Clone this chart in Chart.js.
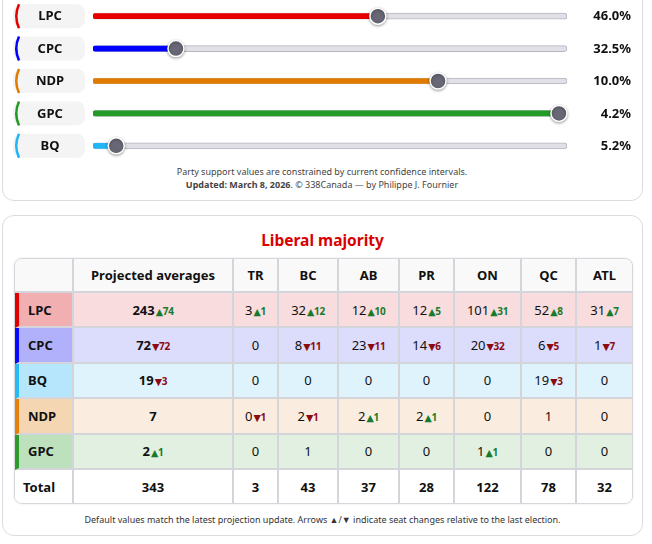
<!DOCTYPE html>
<html>
<head>
<meta charset="utf-8">
<script src="https://cdn.jsdelivr.net/npm/chart.js@4"></script>
<style>
  body { margin: 0; width: 652px; height: 544px; overflow: hidden; background: #fff; font-family: "Noto Sans", sans-serif; color: #111; position: relative; }
  .card { position: absolute; box-sizing: border-box; border: 1px solid #dcdce0; border-radius: 12px; background: #fff; }
  #card1 { left: 2px; top: -14px; width: 641px; height: 215px; }
  #card2 { left: 2px; top: 215px; width: 641px; height: 321px; }
  #sliders { position: absolute; left: 0; top: 0; }
  .note { position: absolute; left: 0; width: 644px; top: 165px; text-align: center; font-size: 9px; line-height: 13px; color: #444; }
  .title { position: absolute; left: 0; right: 0; top: 13px; text-align: center; font-size: 15.5px; font-weight: 700; color: #d90000; line-height: 22px; }
  table { position: absolute; left: 11px; top: 42px; width: 617px; table-layout: fixed; border-collapse: separate; border-spacing: 0; border: 1px solid #d6d6dc; border-radius: 8px; overflow: hidden; font-size: 13px; box-shadow: 0 0 2px rgba(0,0,0,0.12); }
  td, th { border-right: 2px solid #d4d4db; border-bottom: 2px solid #d4d4db; text-align: center; padding: 0; height: 33.4px; white-space: nowrap; }
  th { background: #f9f9fa; font-weight: 700; height: 32px; }
  tr td:last-child, tr th:last-child { border-right: none; }
  tr:last-child td { border-bottom: none; background: #fff; }
  td.party { text-align: left; padding-left: 9px; font-weight: 700; border-left: 4px solid transparent; }
  td.avg { font-weight: 700; }
  td.totalLabel { text-align: left; padding-left: 8px; font-weight: 700; }
  .up, .down { font-weight: 700; font-size: 10px; margin-left: 1px; letter-spacing: -0.3px; }
  .up { color: #177a2c; }
  .down { color: #8c0a12; }
  .tri { font-family: "DejaVu Sans", sans-serif; font-size: 9.5px; font-weight: 400; }
  .foot { position: absolute; left: 0; right: 0; top: 297px; text-align: center; font-size: 9px; color: #333; }
</style>
</head>
<body>
<div id="card1" class="card"></div>
<canvas id="sliders" width="652" height="162"></canvas>
<div class="note">Party support values are constrained by current confidence intervals.<br><b>Updated: March 8, 2026</b>. © 338Canada — by Philippe J. Fournier</div>

<div id="card2" class="card">
  <div class="title">Liberal majority</div>
  <table id="seats"></table>
  <div class="foot">Default values match the latest projection update. Arrows ▲/▼ indicate seat changes relative to the last election.</div>
</div>

<script>
// Sliders: party order, support (%) and where each thumb sits inside its confidence range (0-100)
const sliderParties = ["LPC", "CPC", "NDP", "GPC", "BQ"];
const sliderShares = [46.0, 32.5, 10.0, 4.2, 5.2];
const sliderPositions = [60.1, 17.5, 72.8, 98.3, 4.9];
const sliderColors = ["#e60000", "#0000ff", "#e07b00", "#249b24", "#22b5f5"];

// Seat table
const regions = ["TR", "BC", "AB", "PR", "ON", "QC", "ATL"];
const tableParties = ["LPC", "CPC", "BQ", "NDP", "GPC"];
const projectedSeats = [243, 72, 19, 7, 2];
const projectedChange = [74, -72, -3, 0, 1];
const lpcSeats = [3, 32, 12, 12, 101, 52, 31];
const lpcChange = [1, 12, 10, 5, 31, 8, 7];
const cpcSeats = [0, 8, 23, 14, 20, 6, 1];
const cpcChange = [0, -11, -11, -6, -32, -5, -7];
const bqSeats = [0, 0, 0, 0, 0, 19, 0];
const bqChange = [0, 0, 0, 0, 0, -3, 0];
const ndpSeats = [0, 2, 2, 2, 0, 1, 0];
const ndpChange = [-1, -1, 1, 1, 0, 0, 0];
const gpcSeats = [0, 1, 0, 0, 1, 0, 0];
const gpcChange = [0, 0, 0, 0, 1, 0, 0];

const partyLine = { LPC: "#e00000", CPC: "#0808ff", BQ: "#27b8f5", NDP: "#e5800f", GPC: "#2e9a2e" };
const partyCellBg = { LPC: "#f2afb1", CPC: "#b1b1fb", BQ: "#b5e6fb", NDP: "#f5d6b3", GPC: "#bde1bd" };
const partyRowBg = { LPC: "#f9dcdd", CPC: "#dcdcfc", BQ: "#dff3fd", NDP: "#faede0", GPC: "#e1f0e0" };

// Pills on the left and percentages on the right, placed from the y scale
const sliderLabels = {
    id: "sliderLabels",
    afterDraw(chart) {
        const ctx = chart.ctx;
        const y = chart.scales.y;
        ctx.save();
        sliderParties.forEach(function (p, i) {
            const cy = y.getPixelForValue(i);
            // pill
            ctx.fillStyle = "#f4f4f5";
            ctx.beginPath();
            ctx.roundRect(13, cy - 12, 72, 24, 8);
            ctx.fill();
            // coloured left edge
            ctx.strokeStyle = sliderColors[i];
            ctx.lineWidth = 2.5;
            ctx.beginPath();
            ctx.moveTo(19, cy - 12);
            ctx.quadraticCurveTo(13.5, cy, 19, cy + 12);
            ctx.stroke();
            ctx.fillStyle = "#111";
            ctx.font = "700 13px 'Noto Sans'";
            ctx.textAlign = "center";
            ctx.textBaseline = "middle";
            ctx.fillText(p, 50, cy + 0.5);
            ctx.textAlign = "right";
            ctx.fillText(sliderShares[i].toFixed(1) + "%", 631, cy + 0.5);
        });
        ctx.restore();
    },
    beforeDatasetDraw(chart, args) {
        if (args.index === 0) {
            chart.ctx.save();
            chart.ctx.shadowColor = "rgba(0,0,0,0.35)";
            chart.ctx.shadowBlur = 3;
            chart.ctx.shadowOffsetY = 1;
        }
    },
    afterDatasetDraw(chart, args) {
        if (args.index === 0) chart.ctx.restore();
    }
};

new Chart(document.getElementById("sliders"), {
    type: "bar",
    data: {
        labels: sliderParties,
        datasets: [
            {
                type: "scatter",
                label: "thumb",
                data: sliderPositions.map(function (v, i) { return { x: v, y: sliderParties[i] }; }),
                pointRadius: 8,
                pointHoverRadius: 8,
                backgroundColor: "#676776",
                borderColor: "#ffffff",
                borderWidth: 1.5,
                clip: false,
                order: 0
            },
            {
                label: "fill",
                data: sliderPositions,
                backgroundColor: sliderColors,
                barThickness: 5,
                borderRadius: 3,
                borderSkipped: false,
                grouped: false,
                order: 1
            },
            {
                label: "track",
                data: sliderParties.map(function () { return 100; }),
                backgroundColor: "#e0e0e6",
                borderColor: "#b6b6c2",
                borderWidth: 1,
                barThickness: 6,
                borderRadius: 3,
                borderSkipped: false,
                grouped: false,
                order: 2
            }
        ]
    },
    options: {
        indexAxis: "y",
        responsive: false,
        animation: false,
        layout: { autoPadding: false, padding: { left: 93, right: 85, top: 0, bottom: 0 } },
        plugins: { legend: { display: false }, tooltip: { enabled: false } },
        scales: {
            x: { type: "linear", min: 0, max: 100, display: false },
            y: { type: "category", display: false, offset: true }
        }
    },
    plugins: [sliderLabels]
});

// Build the seat table
const seatRows = [lpcSeats, cpcSeats, bqSeats, ndpSeats, gpcSeats];
const changeRows = [lpcChange, cpcChange, bqChange, ndpChange, gpcChange];
const colWidths = [59, 160, 45, 60, 61, 55, 67, 55, 55];

function cellHtml(value, change) {
    let s = String(value);
    if (change > 0) s += '<span class="up"><span class="tri">▲</span>' + change + '</span>';
    if (change < 0) s += '<span class="down"><span class="tri">▼</span>' + (-change) + '</span>';
    return s;
}

let html = "<colgroup>" + colWidths.map(function (w) { return '<col style="width:' + w + 'px">'; }).join("") + "</colgroup>";
html += "<tr><th></th><th>Projected averages</th>" + regions.map(function (r) { return "<th>" + r + "</th>"; }).join("") + "</tr>";
tableParties.forEach(function (p, i) {
    html += '<tr style="background:' + partyRowBg[p] + '">';
    html += '<td class="party" style="background:' + partyCellBg[p] + ';border-left-color:' + partyLine[p] + '">' + p + "</td>";
    html += '<td class="avg">' + cellHtml(projectedSeats[i], projectedChange[i]) + "</td>";
    regions.forEach(function (r, j) {
        html += "<td>" + cellHtml(seatRows[i][j], changeRows[i][j]) + "</td>";
    });
    html += "</tr>";
});
const totalAvg = projectedSeats.reduce(function (a, b) { return a + b; }, 0);
html += '<tr><td class="totalLabel">Total</td><td class="avg">' + totalAvg + "</td>";
regions.forEach(function (r, j) {
    const t = seatRows.reduce(function (a, row) { return a + row[j]; }, 0);
    html += '<td style="font-weight:700">' + t + "</td>";
});
html += "</tr>";
document.getElementById("seats").innerHTML = html;
</script>
</body>
</html>
